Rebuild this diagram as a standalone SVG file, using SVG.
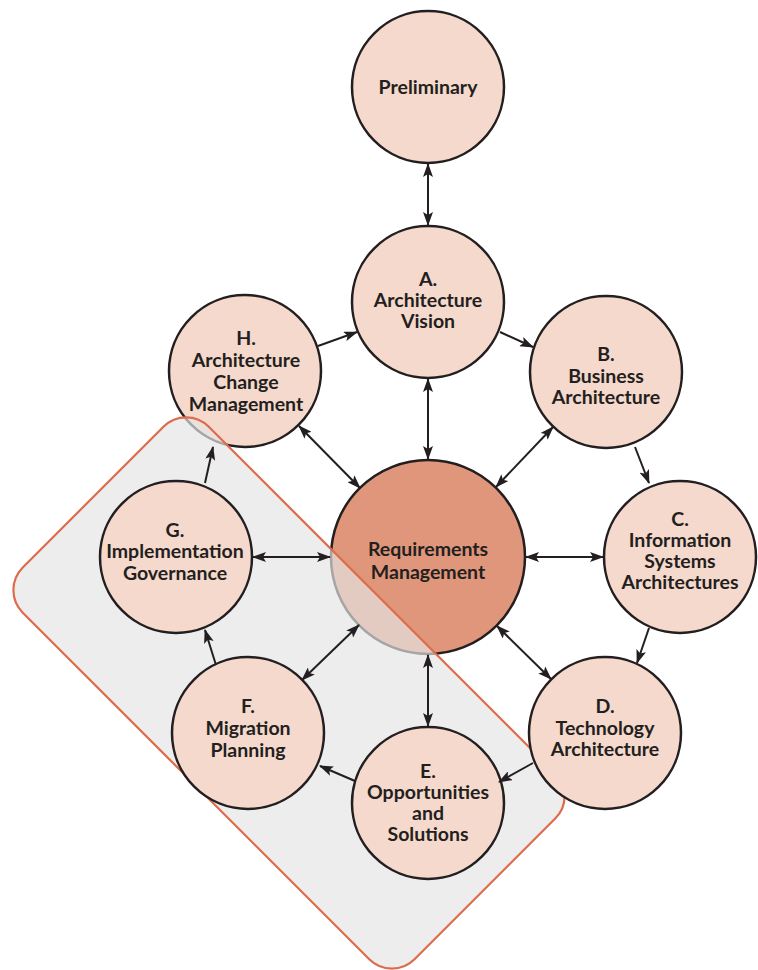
<svg xmlns="http://www.w3.org/2000/svg" width="758" height="970" viewBox="0 0 758 970">
<defs>
<style>
.node{fill:#f5d9cc;stroke:#231f20;stroke-width:2.5}
.core{fill:#e0967a;stroke:#231f20;stroke-width:2.5}
.lbl{font-family:Lato,"Liberation Sans",sans-serif;font-weight:700;font-size:19.5px;fill:#231f20;text-anchor:middle}
.c{fill:none;stroke:#231f20;stroke-width:2;marker-end:url(#ah)}
.d{marker-start:url(#ah)}
.region{fill:#e4e4e4;fill-opacity:0.68;stroke:#dd6b4d;stroke-width:2.2}
</style>
<marker id="ah" viewBox="0 0 14 10" refX="13" refY="5" markerWidth="14" markerHeight="10" markerUnits="userSpaceOnUse" orient="auto-start-reverse">
<path d="M0,0 L14,5 L0,10 L3,5 z" fill="#231f20"/>
</marker>
</defs>
<rect width="758" height="970" fill="#ffffff"/>
<g id="preliminary"><circle class="node" cx="428" cy="87" r="76"/><text class="lbl" x="428" y="94">Preliminary</text></g>
<g id="phase-a"><circle class="node" cx="428" cy="302" r="76"/><text class="lbl" x="428" y="286">A.</text><text class="lbl" x="428" y="307">Architecture</text><text class="lbl" x="428" y="328">Vision</text></g>
<g id="phase-b"><circle class="node" cx="606" cy="372" r="76"/><text class="lbl" x="606" y="361">B.</text><text class="lbl" x="606" y="383">Business</text><text class="lbl" x="606" y="404">Architecture</text></g>
<g id="phase-c"><circle class="node" cx="680" cy="557" r="76"/><text class="lbl" x="680" y="526">C.</text><text class="lbl" x="680" y="547">Information</text><text class="lbl" x="680" y="568">Systems</text><text class="lbl" x="680" y="589">Architectures</text></g>
<g id="phase-h"><circle class="node" cx="245" cy="371" r="76"/><text class="lbl" x="246" y="345">H.</text><text class="lbl" x="246" y="367">Architecture</text><text class="lbl" x="246" y="389">Change</text><text class="lbl" x="246" y="411">Management</text></g>
<g id="requirements"><circle class="core" cx="428" cy="557" r="97"/><text class="lbl" x="428" y="556">Requirements</text><text class="lbl" x="428" y="579">Management</text></g>
<g id="region"><rect class="region" x="12" y="561.5" width="554" height="263" rx="32" ry="32" transform="rotate(45 289 693)"/></g>
<g id="phase-d"><circle class="node" cx="605" cy="733" r="76"/><text class="lbl" x="605" y="713">D.</text><text class="lbl" x="605" y="735">Technology</text><text class="lbl" x="605" y="756">Architecture</text></g>
<g id="phase-e"><circle class="node" cx="428" cy="803" r="76"/><text class="lbl" x="428" y="778">E.</text><text class="lbl" x="428" y="799">Opportunities</text><text class="lbl" x="428" y="820">and</text><text class="lbl" x="428" y="841">Solutions</text></g>
<g id="phase-f"><circle class="node" cx="248" cy="733" r="76"/><text class="lbl" x="248" y="713">F.</text><text class="lbl" x="248" y="735">Migration</text><text class="lbl" x="248" y="757">Planning</text></g>
<g id="phase-g"><circle class="node" cx="176" cy="557" r="76"/><text class="lbl" x="175" y="537">G.</text><text class="lbl" x="175" y="558">Implementation</text><text class="lbl" x="175" y="580">Governance</text></g>
<g id="connectors">
<line class="c d" x1="428" y1="164" x2="428" y2="225"/>
<line class="c d" x1="428" y1="379" x2="428" y2="459"/>
<line class="c d" x1="428" y1="655" x2="428" y2="726"/>
<line class="c d" x1="253" y1="557" x2="330" y2="557"/>
<line class="c d" x1="526" y1="557" x2="603" y2="557"/>
<line class="c d" x1="299" y1="426" x2="360" y2="488"/>
<line class="c d" x1="553" y1="427" x2="496" y2="487"/>
<line class="c d" x1="497" y1="626" x2="551" y2="679"/>
<line class="c d" x1="359" y1="625" x2="302" y2="680"/>
<line class="c" x1="318" y1="346" x2="357" y2="332"/>
<line class="c" x1="500" y1="332" x2="533" y2="347"/>
<line class="c" x1="635" y1="447" x2="649" y2="483"/>
<line class="c" x1="649" y1="628" x2="637" y2="663"/>
<line class="c" x1="533" y1="763" x2="499" y2="782"/>
<line class="c" x1="355" y1="781" x2="320" y2="766"/>
<line class="c" x1="216" y1="665" x2="205" y2="630"/>
<line class="c" x1="205" y1="483" x2="213" y2="447"/>
</g>
</svg>
